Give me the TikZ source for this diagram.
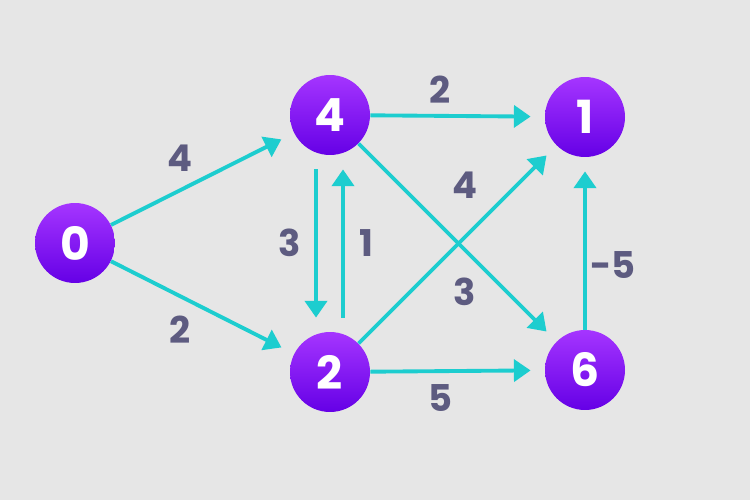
\documentclass[tikz,border=0pt]{standalone}
\usepackage{fontspec}
\setmainfont{Poppins}
\usetikzlibrary{arrows.meta}
\definecolor{bgGray}{HTML}{E6E6E6}
\definecolor{vTop}{HTML}{A535FF}
\definecolor{vBot}{HTML}{6500E6}
\definecolor{edgeTeal}{HTML}{1DCDCF}
\definecolor{wText}{HTML}{5D5B80}

\begin{document}
\begin{tikzpicture}[x=0.02cm,y=-0.02cm,
    vertex/.style={circle, minimum size=1.6cm, inner sep=0pt,
        top color=vTop, bottom color=vBot, text=white,
        font=\fontsize{26}{26}\selectfont\bfseries},
    edge/.style={draw=edgeTeal, line width=2.2pt,
        -{Triangle[length=9.5pt,width=12.5pt]}, shorten >=8pt},
    weight/.style={text=wText, font=\fontsize{21}{21}\selectfont\bfseries}]
\fill[bgGray] (0,0) rectangle (750,500);
\useasboundingbox (0,0) rectangle (750,500);
%
\node[vertex] (v0) at (75,243) {0};
\node[vertex] (v4) at (330,115) {4};
\node[vertex] (v1) at (585,117) {1};
\node[vertex] (v2) at (330,372) {2};
\node[vertex] (v6) at (585,370) {6};
%
\draw[edge] (v0) -- (v4);
\draw[edge] (v0) -- (v2);
\draw[edge] (v4) -- (v1);
\draw[edge] (v2) -- (v6);
\draw[edge] (v4) -- (v6);
\draw[edge] (v2) -- (v1);
\draw[edge] (v6) -- (v1);
\draw[edge, shorten <=8pt] ([xshift=-14*0.02cm]v4.south) -- ([xshift=-14*0.02cm]v2.north);
\draw[edge, shorten <=8pt] ([xshift=13*0.02cm]v2.north) -- ([xshift=13*0.02cm]v4.south);
%
\node[weight] (w04) at (180,158) {4};
\node[weight] (w02) at (180,330) {2};
\node[weight] (w41) at (440,90) {2};
\node[weight] (w26) at (440,398) {5};
\node[weight] (w42) at (290,243) {3};
\node[weight] (w24) at (366,243) {1};
\node[weight] (w21) at (465,185) {4};
\node[weight] (w46) at (465,292) {3};
\node[weight] (w61) at (613,265) {-5};
\end{tikzpicture}
\end{document}
